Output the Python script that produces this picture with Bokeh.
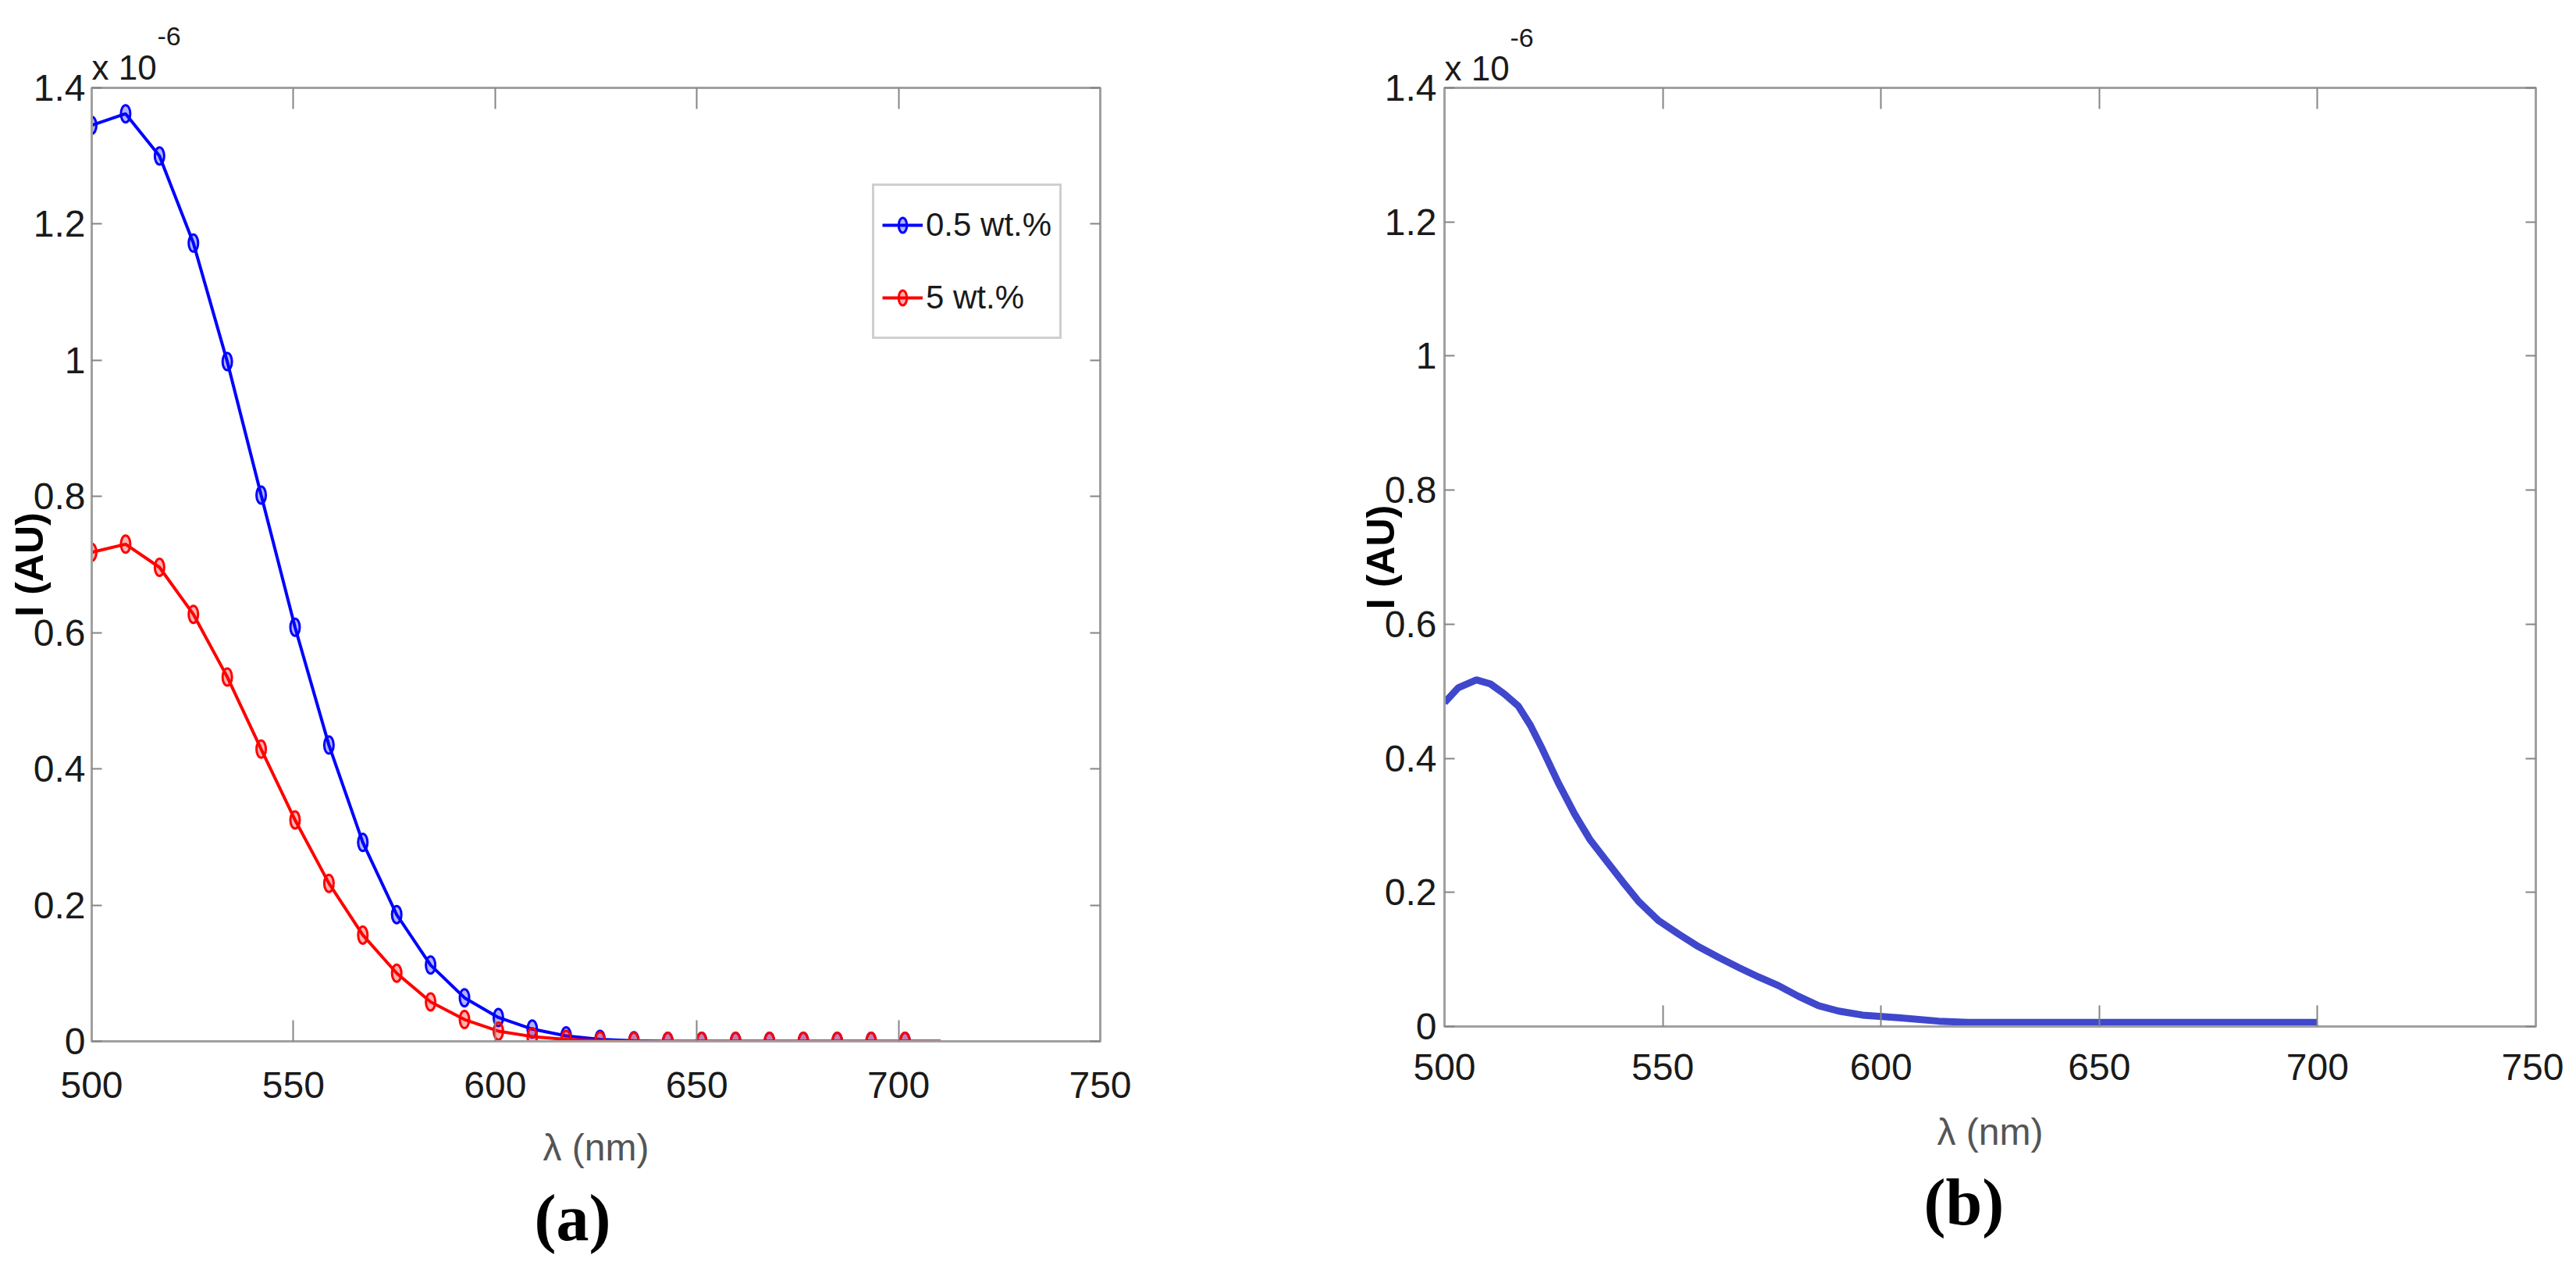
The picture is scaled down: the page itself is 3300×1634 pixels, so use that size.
from bokeh.plotting import figure
from bokeh.models import (Range1d, FixedTicker, CustomJSTickFormatter, LinearAxis,
                          Title, Legend, LegendItem)
from bokeh.layouts import row
from bokeh.embed import file_html
from bokeh.resources import INLINE

# ---------------- data (intensity in units of 1e-6) ----------------
lam_a = [500.0, 508.4, 516.8, 525.2, 533.6, 542.0, 550.4, 558.8, 567.2, 575.6,
         584.0, 592.4, 600.8, 609.2, 617.6, 626.0, 634.4, 642.8, 651.2, 659.6,
         668.0, 676.4, 684.8, 693.2, 701.6]
I_05wt = [1.345, 1.362, 1.300, 1.172, 0.998, 0.802, 0.608, 0.435, 0.292, 0.186,
          0.112, 0.064, 0.035, 0.018, 0.008, 0.003, 0.001, 0.0, 0.0, 0.0,
          0.0, 0.0, 0.0, 0.0, 0.0]
I_5wt = [0.718, 0.730, 0.696, 0.627, 0.535, 0.429, 0.325, 0.232, 0.156, 0.100,
         0.058, 0.032, 0.015, 0.007, 0.003, 0.001, 0.0, 0.0, 0.0, 0.0,
         0.0, 0.0, 0.0, 0.0, 0.0]
lam_a_last = 710.4      # curves continue to here (no marker)
I_a_last = 0.0

lam_b = [500.0, 503.1, 507.3, 510.5, 513.7, 516.9, 519.7, 522.4, 526.1, 529.8,
         533.4, 537.1, 540.8, 544.4, 549.0, 553.6, 558.2, 562.8, 567.4, 571.9,
         576.5, 581.1, 585.7, 590.3, 595.8, 604.0, 613.2, 620.0, 700.0]
I_b = [0.483, 0.505, 0.517, 0.511, 0.496, 0.478, 0.449, 0.414, 0.363, 0.317,
       0.278, 0.247, 0.216, 0.187, 0.158, 0.138, 0.119, 0.103, 0.088, 0.074,
       0.061, 0.045, 0.031, 0.023, 0.017, 0.013, 0.008, 0.006, 0.006]

x_ticks = [500, 550, 600, 650, 700, 750]
y_ticks = [0, 0.2, 0.4, 0.6, 0.8, 1.0, 1.2, 1.4]
series_labels = ["0.5 wt.%", "5 wt.%"]
x_label = "λ (nm)"
y_label = "I (AU)"
multiplier = ["x 10", "-6"]
captions = ["(a)", "(b)"]

# ---------------- style ----------------
FONT = "Liberation Sans"
TSIZE = "48px"
TCOLOR = "#1a1a1a"
BOX = "#a0a0a0"
TICK = "#858585"
BLUE = "#0000ff"
RED = "#ff0000"
BLUE_B = "#3f47cc"


def blank_axis(ticks, tin, standoff, visible_ticks=True):
    ax = LinearAxis(ticker=FixedTicker(ticks=ticks),
                    formatter=CustomJSTickFormatter(code="return '';"))
    ax.major_tick_in = tin
    ax.major_tick_out = 0
    ax.minor_tick_line_color = None
    ax.major_tick_line_color = TICK if visible_ticks else None
    ax.major_tick_line_width = 2
    ax.axis_line_color = BOX if visible_ticks else None
    ax.axis_line_width = 3
    ax.major_label_text_font_size = "1px"
    ax.major_label_standoff = standoff
    return ax


def make_panel(fw, fh, bl, bt, br, xstand, ystand, xl_stand, yl_stand,
               base_stand, sup_off, spacer, cap, cap_off, cap_stand):
    p = figure(frame_width=fw, frame_height=fh, min_border_left=bl, min_border_top=bt,
               min_border_right=br, min_border_bottom=0, title=None,
               x_range=Range1d(500, 750), y_range=Range1d(0, 1.4),
               output_backend="svg", toolbar_location=None,
               background_fill_color="white", border_fill_color="white")
    p.xgrid.visible = False
    p.ygrid.visible = False
    p.outline_line_color = BOX
    p.outline_line_width = 3

    xa = p.xaxis[0]
    xa.ticker = FixedTicker(ticks=x_ticks)
    ya = p.yaxis[0]
    ya.ticker = FixedTicker(ticks=y_ticks)
    ya.formatter = CustomJSTickFormatter(code="return (Math.round(tick*10)/10).toString();")
    for ax, tin, st in ((xa, 27, xstand), (ya, 13, ystand)):
        ax.major_tick_in = tin
        ax.major_tick_out = 0
        ax.minor_tick_line_color = None
        ax.major_tick_line_color = TICK
        ax.major_tick_line_width = 2
        ax.axis_line_color = BOX
        ax.axis_line_width = 3
        ax.major_label_text_font = FONT
        ax.major_label_text_font_size = TSIZE
        ax.major_label_text_color = TCOLOR
        ax.major_label_standoff = st

    xa.axis_label = x_label
    xa.axis_label_text_font = FONT
    xa.axis_label_text_font_size = TSIZE
    xa.axis_label_text_font_style = "normal"
    xa.axis_label_text_color = "#555555"
    xa.axis_label_standoff = xl_stand

    ya.axis_label = y_label
    ya.axis_label_text_font = FONT
    ya.axis_label_text_font_size = "50px"
    ya.axis_label_text_font_style = "bold"
    ya.axis_label_text_color = "#000000"
    ya.axis_label_standoff = yl_stand

    # mirrored ticks on top and right (box on)
    p.add_layout(blank_axis(x_ticks, 27, 0), "above")
    p.add_layout(blank_axis(y_ticks, 13, 0), "right")

    # exponent multiplier "x 10^-6" above the y axis
    p.add_layout(Title(text=multiplier[0], align="left", offset=0, standoff=base_stand,
                       text_font=FONT, text_font_size="44px", text_font_style="normal",
                       text_color=TCOLOR), "above")
    p.add_layout(Title(text=multiplier[1], align="left", offset=sup_off, standoff=0,
                       text_font=FONT, text_font_size="34px", text_font_style="normal",
                       text_color=TCOLOR), "above")
    # gap between the axis title and the panel caption
    p.add_layout(blank_axis(x_ticks, 0, spacer, visible_ticks=False), "below")
    # panel caption
    p.add_layout(Title(text=cap, align="left", offset=cap_off, standoff=cap_stand,
                       text_font="Liberation Serif", text_font_size="84px",
                       text_font_style="bold", text_color="#000000"), "below")
    return p


# ---------------- panel (a) ----------------
pa = make_panel(1292, 1221, 117, 105, 324, xstand=39, ystand=8, xl_stand=34,
                yl_stand=-26, base_stand=4, sup_off=84, spacer=33, cap=captions[0],
                cap_off=567, cap_stand=24)
la = pa.line(lam_a + [lam_a_last], I_05wt + [I_a_last], line_color=BLUE, line_width=4)
ma = pa.ellipse(x=lam_a, y=I_05wt, width=12, height=22, width_units="screen",
                height_units="screen", line_color=BLUE, line_width=3,
                fill_color=BLUE, fill_alpha=0.3)
lb = pa.line(lam_a + [lam_a_last], I_5wt + [I_a_last], line_color=RED, line_width=4)
mb = pa.ellipse(x=lam_a, y=I_5wt, width=12, height=22, width_units="screen",
                height_units="screen", line_color=RED, line_width=3,
                fill_color=RED, fill_alpha=0.3)
legend = Legend(items=[LegendItem(label=series_labels[0], renderers=[la, ma]),
                       LegendItem(label=series_labels[1], renderers=[lb, mb])],
                location=(1000, 899), orientation="vertical",
                border_line_color=BOX, border_line_width=3,
                background_fill_color="white", background_fill_alpha=1.0,
                padding=10, spacing=13, margin=0,
                glyph_width=52, glyph_height=24, label_height=80,
                label_standoff=4, label_text_font=FONT, label_text_font_size="42px",
                label_text_color=TCOLOR)
pa.add_layout(legend)

# ---------------- panel (b) ----------------
pb = make_panel(1398, 1202, 117, 112, 36, xstand=35, ystand=10, xl_stand=37,
                yl_stand=-26, base_stand=2, sup_off=84, spacer=76, cap=captions[1],
                cap_off=614, cap_stand=24)
pb.line(lam_b, I_b, line_color=BLUE_B, line_width=9)

layout = row(pa, pb)
open("out.html", "w").write(file_html(layout, INLINE))
